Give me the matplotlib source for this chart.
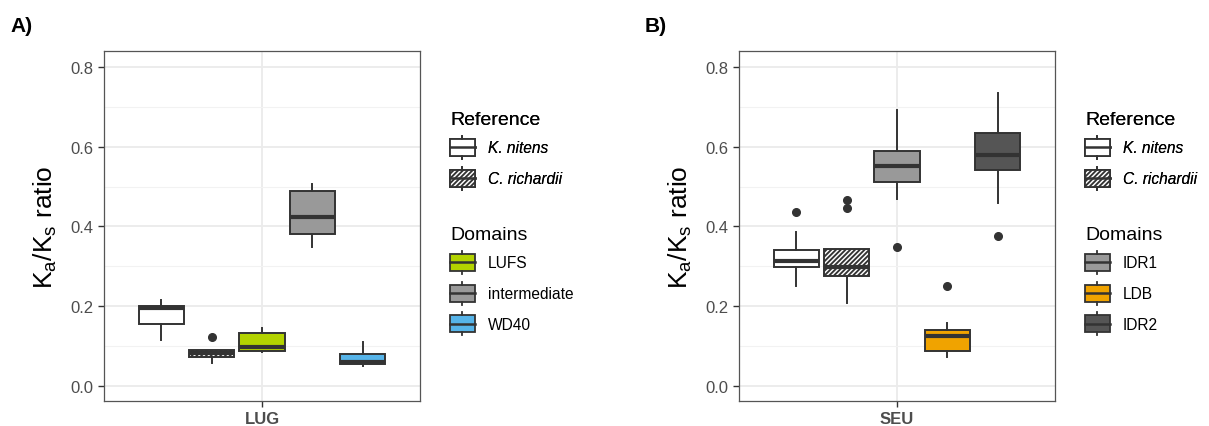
import matplotlib
matplotlib.use("Agg")
import matplotlib.pyplot as plt
from matplotlib.patches import Rectangle, Patch
from matplotlib.lines import Line2D
from matplotlib.legend_handler import HandlerBase

plt.rcParams['font.family'] = ['Liberation Sans', 'DejaVu Sans']
plt.rcParams['hatch.linewidth'] = 1.35

# ---------------- data ----------------
# Panel A: LUG
a_labels = ["K. nitens", "C. richardii", "LUFS", "intermediate", "WD40"]
a_whislo = [0.115, 0.056, 0.085, 0.348, 0.050]
a_q1 = [0.155, 0.073, 0.0864, 0.380, 0.0545]
a_med = [0.194, 0.081, 0.0965, 0.425, 0.059]
a_q3 = [0.1995, 0.0897, 0.132, 0.488, 0.079]
a_whishi = [0.216, 0.0897, 0.144, 0.507, 0.109]
a_fliers = [[], [0.1215], [], [], []]
a_fill = ["white", "white", "#B3D300", "#999999", "#56B4E9"]
a_hatch = [None, "/" * 7, None, None, None]

# Panel B: SEU
b_labels = ["K. nitens", "C. richardii", "IDR1", "LDB", "IDR2"]
b_whislo = [0.251, 0.207, 0.469, 0.071, 0.459]
b_q1 = [0.2975, 0.276, 0.5126, 0.0864, 0.542]
b_med = [0.3125, 0.299, 0.552, 0.124, 0.579]
b_q3 = [0.342, 0.3435, 0.590, 0.140, 0.634]
b_whishi = [0.385, 0.3435, 0.693, 0.1575, 0.735]
b_fliers = [[0.437], [0.466, 0.446], [0.3485], [0.251], [0.376]]
b_fill = ["white", "white", "#999999", "#F0A300", "#555555"]
b_hatch = [None, "/" * 7, None, None, None]

gene_a = "LUG"
gene_b = "SEU"
yticks = [0.0, 0.2, 0.4, 0.6, 0.8]

EDGE = "#333333"


class BoxHandler(HandlerBase):
    def create_artists(self, legend, orig_handle, xdescent, ydescent,
                       width, height, fontsize, trans):
        x0, y0 = -xdescent, -ydescent
        fc = orig_handle.get_facecolor()
        h = orig_handle.get_hatch()
        rect = Rectangle((x0, y0 + height * 0.13), width, height * 0.74,
                         facecolor=fc, edgecolor=EDGE, hatch=h, lw=1.3,
                         transform=trans)
        cx = x0 + width / 2
        wl1 = Line2D([cx, cx], [y0, y0 + height * 0.13], color=EDGE, lw=1.3, transform=trans)
        wl2 = Line2D([cx, cx], [y0 + height * 0.87, y0 + height], color=EDGE, lw=1.3, transform=trans)
        med = Line2D([x0, x0 + width], [y0 + height / 2] * 2, color=EDGE, lw=1.8, transform=trans)
        return [rect, wl1, wl2, med]


fig = plt.figure(figsize=(12.09, 4.27), dpi=100)
W, H = 1209, 427


def px_axes(l, r, t, b):
    return fig.add_axes([l / W, 1 - b / H, (r - l) / W, (b - t) / H])


def draw_panel(ax, gene, labels, whislo, q1, med, q3, whishi, fliers, fills, hatches):
    stats = []
    for i in range(len(labels)):
        stats.append(dict(label=labels[i], whislo=whislo[i], q1=q1[i], med=med[i],
                          q3=q3[i], whishi=whishi[i], fliers=fliers[i]))
    n = len(labels)
    step = 0.1915
    pos = [(i - (n - 1) / 2) * step for i in range(n)]
    bp = ax.bxp(stats, positions=pos, widths=0.171, patch_artist=True, showcaps=False,
                boxprops=dict(edgecolor=EDGE, linewidth=1.4),
                whiskerprops=dict(color=EDGE, linewidth=1.4),
                medianprops=dict(color=EDGE, linewidth=3.0, solid_capstyle='butt'),
                flierprops=dict(marker='o', markerfacecolor=EDGE, markeredgecolor=EDGE,
                                markersize=5.5))
    for b, fc, hc in zip(bp['boxes'], fills, hatches):
        b.set_facecolor(fc)
        if hc:
            b.set_hatch(hc)
    ax.set_xlim(-0.6, 0.6)
    ax.set_ylim(-0.0385, 0.841)
    ax.set_xticks([0])
    ax.set_xticklabels([gene], fontsize=12, fontweight='bold', color="#4D4D4D")
    ax.set_yticks(yticks)
    ax.set_yticklabels([f"{v:.1f}" for v in yticks], fontsize=12, color="#4D4D4D")
    ax.set_yticks([0.1, 0.3, 0.5, 0.7], minor=True)
    ax.tick_params(axis='y', which='minor', length=0)
    ax.tick_params(axis='both', which='major', length=4.5, width=1.0, color="#333333", pad=3)
    ax.grid(True, which='major', color="#EBEBEB", lw=1.3, zorder=0)
    ax.grid(True, which='minor', axis='y', color="#F2F2F2", lw=0.8, zorder=0)
    ax.set_axisbelow(True)
    for s in ax.spines.values():
        s.set_color("#555555")
        s.set_linewidth(0.9)
    ax.set_ylabel(r"$\mathregular{K_a/K_s}$ ratio", fontsize=19, labelpad=8)


def draw_legends(ax, x_px, labels, fills, hatches):
    ref_handles = [Patch(facecolor=fills[i], hatch=hatches[i]) for i in range(2)]
    dom_handles = [Patch(facecolor=fills[i], hatch=hatches[i]) for i in range(2, 5)]
    hmap = {Patch: BoxHandler()}
    common = dict(frameon=False, loc='upper left', handler_map=hmap,
                  handlelength=1.6, handleheight=1.9, handletextpad=0.85,
                  labelspacing=0.5, borderpad=0, borderaxespad=0,
                  title_fontsize=14)
    leg1 = fig.legend(ref_handles, labels[:2], title="Reference",
                      bbox_to_anchor=(x_px / W, 1 - 112 / H), prop=dict(style='italic', size=11.2),
                      **common)
    leg1._legend_box.align = "left"
    leg2 = fig.legend(dom_handles, labels[2:], title="Domains",
                      bbox_to_anchor=(x_px / W, 1 - 227 / H), prop=dict(size=11.2), **common)
    leg2._legend_box.align = "left"
    fig.add_artist(leg1)


axA = px_axes(104, 420, 52, 402)
draw_panel(axA, gene_a, a_labels, a_whislo, a_q1, a_med, a_q3, a_whishi, a_fliers, a_fill, a_hatch)
axB = px_axes(739, 1055, 52, 402)
draw_panel(axB, gene_b, b_labels, b_whislo, b_q1, b_med, b_q3, b_whishi, b_fliers, b_fill, b_hatch)

draw_legends(axA, 450, a_labels, a_fill, a_hatch)
draw_legends(axB, 1085, b_labels, b_fill, b_hatch)

fig.text(10 / W, 1 - 27 / H, "A)", fontsize=15, fontweight='bold', va='center', ha='left')
fig.text(645 / W, 1 - 27 / H, "B)", fontsize=15, fontweight='bold', va='center', ha='left')

fig.savefig("out.png", dpi=100)
